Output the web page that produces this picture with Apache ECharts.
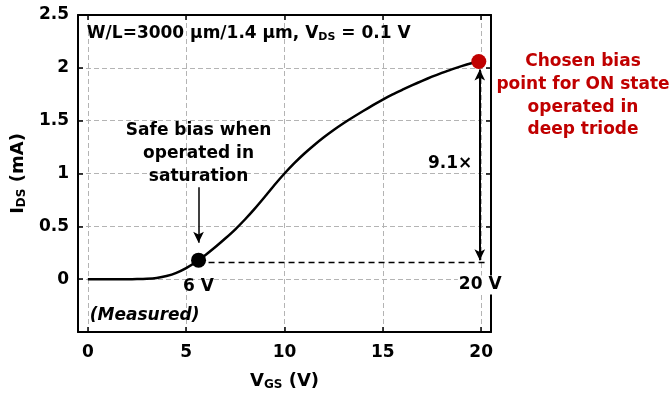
<!DOCTYPE html>
<html>
<head>
<meta charset="utf-8">
<script src="https://cdn.jsdelivr.net/npm/echarts@6/dist/echarts.min.js"></script>
<style>
html,body{margin:0;padding:0;background:#fff;}
#c{width:671px;height:397px;}
</style>
</head>
<body>
<div id="c"></div>
<script>
// ---- data ----
const vgs = [0,0.5,1,1.5,2,2.5,3,3.5,4,4.5,5,5.5,6,6.5,7,7.5,8,8.5,9,9.5,10,10.5,11,11.5,12,12.5,13,13.5,14,14.5,15,15.5,16,16.5,17,17.5,18,18.5,19,19.5,19.88];
const ids = [0,0,0,0,0,0.001,0.004,0.012,0.03,0.06,0.105,0.162,0.232,0.307,0.387,0.472,0.567,0.67,0.78,0.893,1.0,1.098,1.187,1.268,1.343,1.412,1.476,1.535,1.591,1.647,1.70,1.749,1.793,1.836,1.877,1.916,1.952,1.986,2.016,2.043,2.06];
const xTicks = [0,5,10,15,20];
const yTicks = [0,0.5,1,1.5,2,2.5];
const safePoint = [5.63, 0.18];   // "6 V"
const onPoint = [19.88, 2.06];    // "20 V"
const refLevel = 0.158;
const arrowX = 19.93;

const FONT = 'DejaVu Sans';
const chart = echarts.init(document.getElementById('c'), null, {renderer:'canvas'});

const axisCommon = {
  type:'value',
  axisLine:{show:true, onZero:false, lineStyle:{color:'#000', width:2}},
  axisTick:{show:true, inside:true, length:5, lineStyle:{color:'#000', width:1.5}},
};

const option = {
  animation:false,
  backgroundColor:'#fff',
  grid:{left:78, top:15, right:180, bottom:65, containLabel:false},
  xAxis:[
    Object.assign({}, axisCommon, {
      position:'bottom', min:-0.5, max:20.5,
      axisTick:{show:true, inside:true, length:5, customValues:xTicks, lineStyle:{color:'#000', width:1.5}},
      axisLabel:{show:true, customValues:xTicks, color:'#000', fontFamily:FONT, fontWeight:'bold', fontSize:17, margin:12},
      splitLine:{show:true, lineStyle:{color:'#b4b4b4', type:[5,3], width:1}},
      name:'V{sub|GS} (V)', nameLocation:'middle', nameGap:40,
      nameTextStyle:{color:'#000', fontFamily:FONT, fontWeight:'bold', fontSize:18,
        rich:{sub:{fontFamily:FONT, fontWeight:'bold', fontSize:12, padding:[7,0,0,0], color:'#000'}}}
    }),
    Object.assign({}, axisCommon, {
      position:'top', min:-0.5, max:20.5,
      axisTick:{show:true, inside:true, length:5, customValues:xTicks, lineStyle:{color:'#000', width:1.5}},
      axisLabel:{show:false}, splitLine:{show:false}
    })
  ],
  yAxis:[
    Object.assign({}, axisCommon, {
      position:'left', min:-0.5, max:2.5, interval:0.5,
      axisLabel:{show:true, color:'#000', fontFamily:FONT, fontWeight:'bold', fontSize:17, margin:9,
        formatter:v=> (v < -0.01 ? '' : String(v))},
      splitLine:{show:true, lineStyle:{color:'#b4b4b4', type:[5,3], width:1}},
      name:'I{sub|DS} (mA)', nameLocation:'middle', nameGap:43, nameRotate:90,
      nameTextStyle:{color:'#000', fontFamily:FONT, fontWeight:'bold', fontSize:18,
        rich:{sub:{fontFamily:FONT, fontWeight:'bold', fontSize:12, padding:[7,0,0,0], color:'#000'}}}
    }),
    Object.assign({}, axisCommon, {
      position:'right', min:-0.5, max:2.5, interval:0.5,
      axisLabel:{show:false}, splitLine:{show:false}
    })
  ],
  series:[
    {
      type:'line', xAxisIndex:0, yAxisIndex:0,
      data: vgs.map((v,i)=>[v, ids[i]]),
      symbol:'none', smooth:0.2,
      lineStyle:{color:'#000', width:2.5, join:'round'}, z:3
    },
    {
      type:'line', xAxisIndex:0, yAxisIndex:0, data:[], symbol:'none',
      markLine:{
        silent:true, animation:false,
        label:{show:false},
        data:[
          [{coord:[safePoint[0], refLevel], symbol:'none', lineStyle:{type:[6,4], color:'#000', width:1.3}},
           {coord:[20.25, refLevel], symbol:'none'}],
          [{coord:[arrowX, refLevel+0.02], symbol:'arrow', symbolSize:[8,11], lineStyle:{type:'solid', color:'#000', width:2}},
           {coord:[arrowX, 1.985], symbol:'arrow', symbolSize:[8,11]}],
          [{coord:[safePoint[0], 0.87], symbol:'none', lineStyle:{type:'solid', color:'#000', width:1.5}},
           {coord:[safePoint[0], 0.345], symbol:'arrow', symbolSize:[8,11]}]
        ]
      },
      z:2
    },
    {
      type:'scatter', xAxisIndex:0, yAxisIndex:0,
      data:[
        {value:safePoint, itemStyle:{color:'#000', opacity:1}},
        {value:onPoint, itemStyle:{color:'#c00000', opacity:1}}
      ],
      symbol:'circle', symbolSize:15, itemStyle:{opacity:1}, z:5
    }
  ]
};
chart.setOption(option);

function px(p){ return chart.convertToPixel({gridIndex:0}, p); }
const black = '#000';
const red = '#c00000';
const fnt = (s, italic)=> (italic?'italic ':'') + 'bold ' + s + 'px "' + FONT + '"';

const g = [];
let p;
p = px([-0.05, 2.32]);
g.push({type:'text', x:p[0], y:p[1], z:10, style:{
  text:'W/L=3000 µm/1.4 µm, V{sub|DS} = 0.1 V', font:fnt(17), fill:black,
  textAlign:'left', textVerticalAlign:'middle',
  rich:{sub:{font:fnt(11), fill:black, padding:[7,0,0,0]}}
}});
p = px([safePoint[0], 1.19]);
g.push({type:'text', x:p[0], y:p[1], z:10, style:{
  text:'Safe bias when\noperated in\nsaturation', font:fnt(17), fill:black, lineHeight:23,
  textAlign:'center', textVerticalAlign:'middle'
}});
p = px([safePoint[0], -0.072]);
g.push({type:'text', x:p[0], y:p[1], z:10, style:{
  text:'6 V', font:fnt(17), fill:black, textAlign:'center', textVerticalAlign:'middle'
}});
p = px([0.1, -0.34]);
g.push({type:'text', x:p[0], y:p[1], z:10, style:{
  text:'(Measured)', font:fnt(17, true), fill:black, textAlign:'left', textVerticalAlign:'middle'
}});
p = px([19.55, 1.09]);
g.push({type:'text', x:p[0], y:p[1], z:10, style:{
  text:'9.1×', font:fnt(17), fill:black, textAlign:'right', textVerticalAlign:'middle'
}});
p = px([19.95, -0.055]);
g.push({type:'text', x:p[0], y:p[1], z:10, style:{
  text:'20 V', font:fnt(17), fill:black, textAlign:'center', textVerticalAlign:'middle',
  backgroundColor:'#fff', padding:[1,1,1,1]
}});
g.push({type:'text', x:583, y:96, z:10, style:{
  text:'Chosen bias\npoint for ON state\noperated in\ndeep triode', font:fnt(17), fill:red, lineHeight:22.7,
  textAlign:'center', textVerticalAlign:'middle'
}});
chart.setOption({graphic:g});
</script>
</body>
</html>
